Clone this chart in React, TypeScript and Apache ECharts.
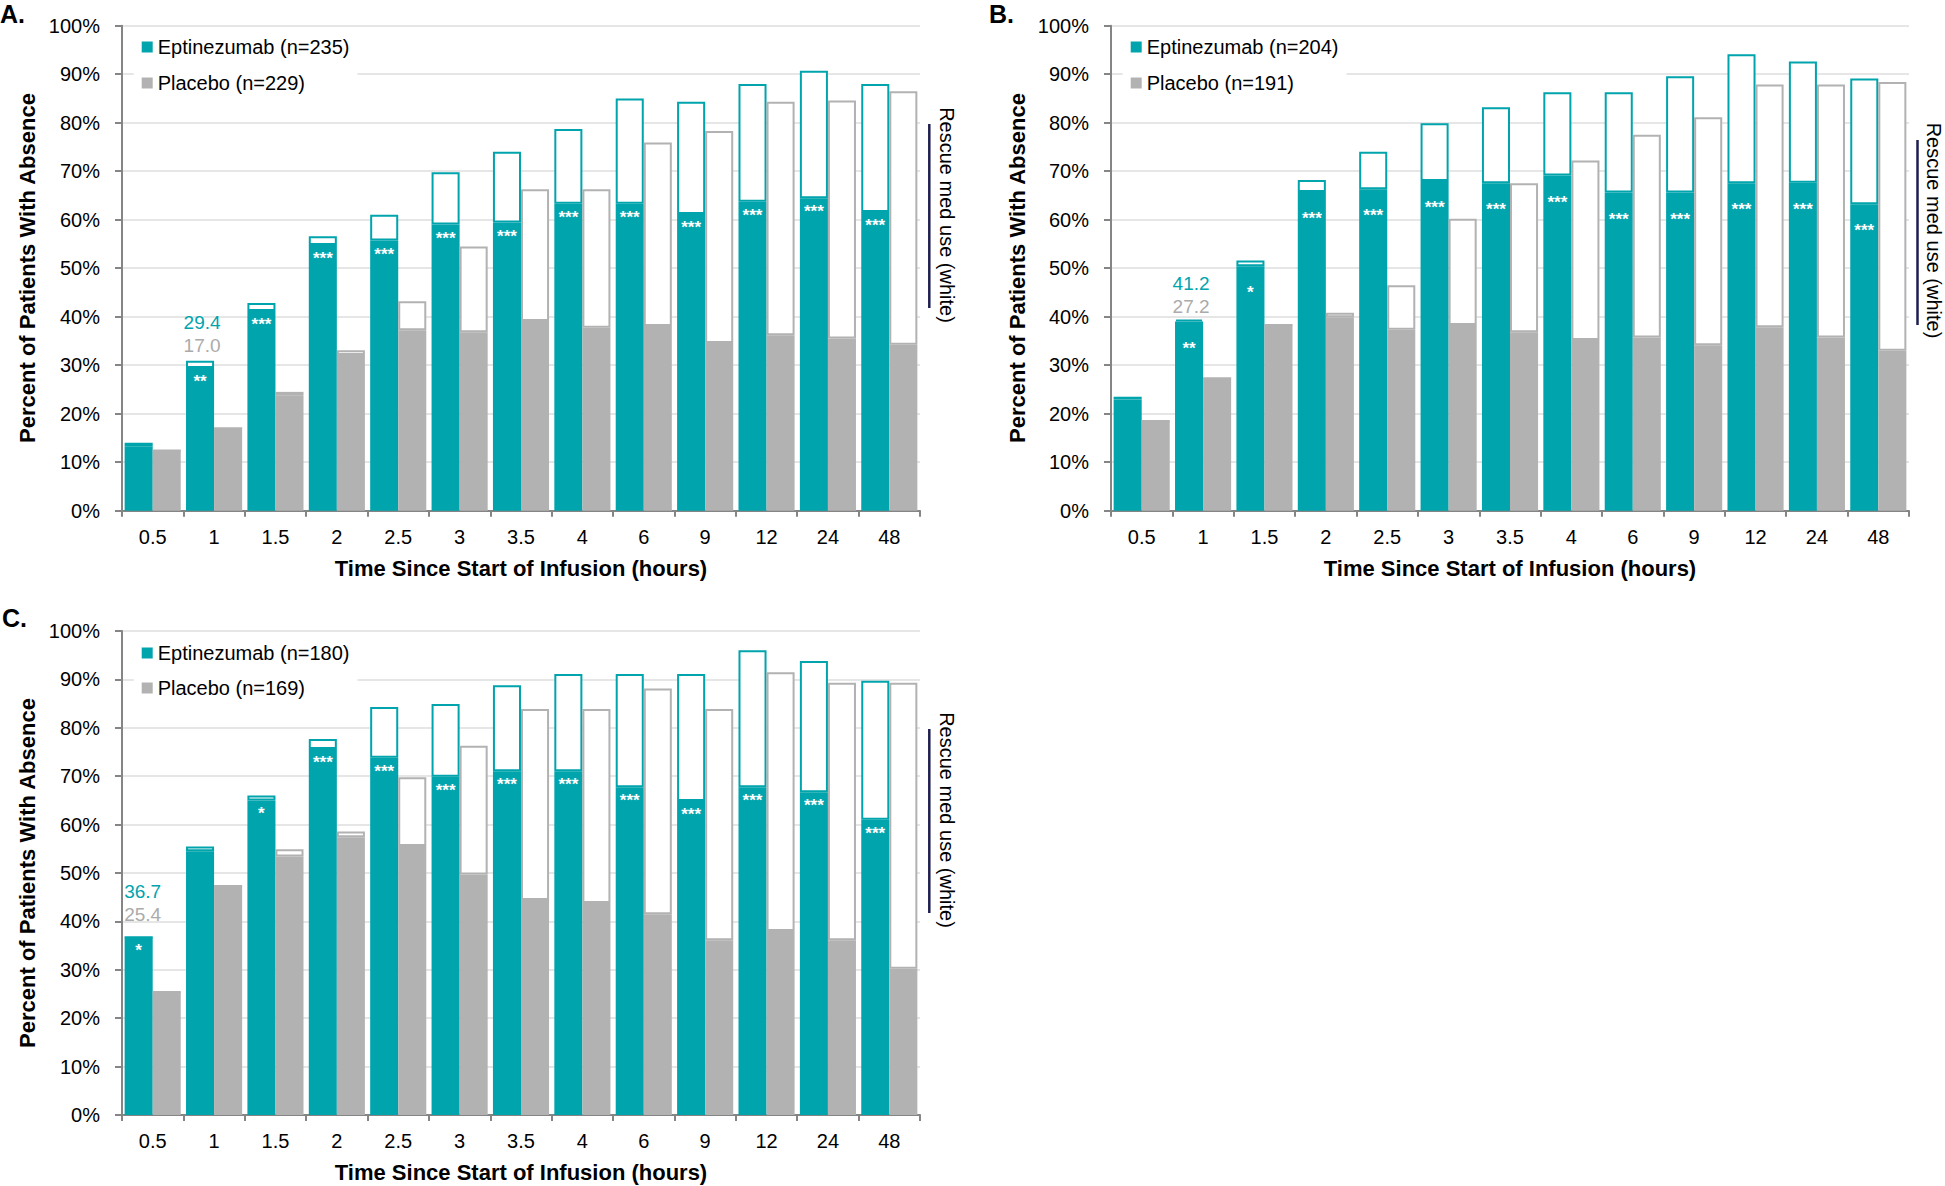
import React, { useEffect, useRef } from "react";
import * as echarts from "echarts";

// ---------- DATA ----------
const CATEGORIES = ["0.5", "1", "1.5", "2", "2.5", "3", "3.5", "4", "6", "9", "12", "24", "48"];
const Y_TICKS = [0, 10, 20, 30, 40, 50, 60, 70, 80, 90, 100];

// Panel A
const A_EPT_NAME = "Eptinezumab (n=235)";
const A_PBO_NAME = "Placebo (n=229)";
const A_EPT_SOLID = [13.3, 29.4, 41.2, 54.8, 55.7, 59.0, 59.4, 63.3, 63.3, 61.2, 63.7, 64.4, 61.6];
const A_EPT_TOTAL = [14.0, 30.9, 42.8, 56.6, 61.0, 69.8, 74.0, 78.7, 85.0, 84.3, 88.0, 90.7, 88.0];
const A_PBO_SOLID = [12.4, 17.0, 23.8, 32.1, 37.2, 36.8, 39.1, 37.7, 38.1, 34.6, 36.2, 35.5, 34.2];
const A_PBO_TOTAL = [12.4, 17.0, 24.5, 33.1, 43.2, 54.5, 66.3, 66.3, 75.9, 78.3, 84.3, 84.6, 86.5];
const A_STARS = ["", "**", "***", "***", "***", "***", "***", "***", "***", "***", "***", "***", "***"];
const A_NOTE = { index: 1, ept: "29.4", pbo: "17.0" };

// Panel B
const B_EPT_NAME = "Eptinezumab (n=204)";
const B_PBO_NAME = "Placebo (n=191)";
const B_EPT_SOLID = [22.9, 39.0, 50.4, 65.7, 66.3, 68.0, 67.5, 69.1, 65.6, 65.6, 67.5, 67.6, 63.2];
const B_EPT_TOTAL = [23.5, 39.4, 51.6, 68.2, 74.0, 79.9, 83.2, 86.3, 86.3, 89.6, 94.1, 92.6, 89.1];
const B_PBO_SOLID = [18.5, 27.3, 38.3, 39.9, 37.3, 38.3, 36.8, 35.2, 35.7, 34.1, 37.8, 35.7, 33.0];
const B_PBO_TOTAL = [18.5, 27.3, 38.3, 40.8, 46.5, 60.2, 67.5, 72.2, 77.5, 81.1, 87.9, 87.9, 88.4];
const B_STARS = ["", "**", "*", "***", "***", "***", "***", "***", "***", "***", "***", "***", "***"];
const B_NOTE = { index: 1, ept: "41.2", pbo: "27.2" };

// Panel C
const C_EPT_NAME = "Eptinezumab (n=180)";
const C_PBO_NAME = "Placebo (n=169)";
const C_EPT_SOLID = [36.7, 54.5, 65.0, 75.6, 73.8, 69.9, 71.0, 71.0, 67.7, 64.9, 67.7, 66.7, 61.0];
const C_EPT_TOTAL = [36.7, 55.5, 66.0, 77.7, 84.3, 84.9, 88.8, 91.1, 91.1, 91.1, 96.0, 93.8, 89.7];
const C_PBO_SOLID = [25.4, 47.3, 53.4, 57.4, 55.6, 49.7, 44.4, 43.8, 41.5, 36.1, 38.0, 36.1, 30.2];
const C_PBO_TOTAL = [25.4, 47.3, 54.9, 58.6, 69.8, 76.3, 83.9, 83.9, 88.1, 83.9, 91.5, 89.3, 89.3];
const C_STARS = ["*", "", "*", "***", "***", "***", "***", "***", "***", "***", "***", "***", "***"];
const C_NOTE = { index: 0, ept: "36.7", pbo: "25.4" };

// Texts
const Y_TITLE = "Percent of Patients With Absence";
const X_TITLE = "Time Since Start of Infusion (hours)";
const RESCUE_TEXT = "Rescue med use (white)";
const PANEL_LABELS = ["A.", "B.", "C."];

// ---------- STYLE ----------
const FONT = "'Liberation Sans', Arial, Helvetica, sans-serif";
const TEAL = "#00A4AD";
const GRAY = "#B2B2B2";
const NOTE_GRAY = "#ABABAB";
const AXIS_GRAY = "#858585";
const GRID_GRAY = "#E6E6E6";
const NAVY = "#1E1E50";

type Panel = {
  grid: { left: number; top: number; width: number; height: number };
  eptName: string;
  pboName: string;
  eptSolid: number[];
  eptTotal: number[];
  pboSolid: number[];
  pboTotal: number[];
  stars: string[];
  starDist: number;
  note: { index: number; ept: string; pbo: string };
  noteDist: number;
  noteOffset: number;
  legend: { left: number; top: number; gap: number };
  label: { x: number; y: number; text: string };
  yTitle: { x: number; y: number };
  xTitle: { x: number; y: number };
  rescue: { x: number; y: number; lx: number; ly1: number; ly2: number };
};

const PANELS: Panel[] = [
  {
    grid: { left: 122, top: 25.7, width: 798, height: 485 },
    eptName: A_EPT_NAME, pboName: A_PBO_NAME,
    eptSolid: A_EPT_SOLID, eptTotal: A_EPT_TOTAL, pboSolid: A_PBO_SOLID, pboTotal: A_PBO_TOTAL,
    stars: A_STARS, starDist: 5, note: A_NOTE, noteDist: 4, noteOffset: 2,
    legend: { left: 133.7, top: 33, gap: 16 },
    label: { x: 0, y: 14, text: PANEL_LABELS[0] },
    yTitle: { x: 27, y: 268 },
    xTitle: { x: 521, y: 568 },
    rescue: { x: 946.7, y: 215, lx: 929.3, ly1: 124, ly2: 308 },
  },
  {
    grid: { left: 1111, top: 25.7, width: 798, height: 485 },
    eptName: B_EPT_NAME, pboName: B_PBO_NAME,
    eptSolid: B_EPT_SOLID, eptTotal: B_EPT_TOTAL, pboSolid: B_PBO_SOLID, pboTotal: B_PBO_TOTAL,
    stars: B_STARS, starDist: 18, note: B_NOTE, noteDist: 2, noteOffset: 2,
    legend: { left: 1122.7, top: 33, gap: 16 },
    label: { x: 989, y: 14, text: PANEL_LABELS[1] },
    yTitle: { x: 1017, y: 268 },
    xTitle: { x: 1510, y: 568 },
    rescue: { x: 1933.5, y: 230.5, lx: 1917.5, ly1: 140, ly2: 325 },
  },
  {
    grid: { left: 122, top: 631, width: 798, height: 484 },
    eptName: C_EPT_NAME, pboName: C_PBO_NAME,
    eptSolid: C_EPT_SOLID, eptTotal: C_EPT_TOTAL, pboSolid: C_PBO_SOLID, pboTotal: C_PBO_TOTAL,
    stars: C_STARS, starDist: 5, note: C_NOTE, noteDist: 10, noteOffset: 4,
    legend: { left: 133.7, top: 639, gap: 15 },
    label: { x: 2, y: 618, text: PANEL_LABELS[2] },
    yTitle: { x: 27, y: 873 },
    xTitle: { x: 521, y: 1172.5 },
    rescue: { x: 946.7, y: 820, lx: 929.3, ly1: 729, ly2: 913 },
  },
];

function buildOption() {
  const grids: any[] = [];
  const xAxes: any[] = [];
  const yAxes: any[] = [];
  const legends: any[] = [];
  const series: any[] = [];
  const graphics: any[] = [];

  PANELS.forEach((p, gi) => {
    grids.push({ ...p.grid, containLabel: false });
    xAxes.push({
      type: "category",
      gridIndex: gi,
      data: CATEGORIES,
      axisLine: { show: true, lineStyle: { color: AXIS_GRAY, width: 2 } },
      axisTick: { show: true, length: 6, lineStyle: { color: AXIS_GRAY, width: 2 } },
      axisLabel: { color: "#000", fontSize: 20, fontFamily: FONT, margin: 16 },
      splitLine: { show: false },
    });
    yAxes.push({
      type: "value",
      gridIndex: gi,
      min: Y_TICKS[0],
      max: Y_TICKS[Y_TICKS.length - 1],
      interval: 10,
      axisLine: { show: true, lineStyle: { color: AXIS_GRAY, width: 2 } },
      axisTick: { show: true, length: 7, lineStyle: { color: AXIS_GRAY, width: 2 } },
      axisLabel: { color: "#000", fontSize: 20, fontFamily: FONT, margin: 22, formatter: "{value}%" },
      splitLine: { show: true, lineStyle: { color: GRID_GRAY, width: 2 } },
    });
    legends.push({
      orient: "vertical",
      left: p.legend.left,
      top: p.legend.top,
      padding: [4, 8, 4, 8],
      itemGap: p.legend.gap,
      itemWidth: 11,
      itemHeight: 11,
      icon: "rect",
      backgroundColor: "#fff",
      data: [p.eptName, p.pboName],
      itemStyle: { borderWidth: 0 },
      textStyle: { color: "#000", fontSize: 20, fontFamily: FONT },
      selectedMode: false,
    });

    const stars = p.stars;
    const common = {
      type: "bar",
      xAxisIndex: gi,
      yAxisIndex: gi,
      barGap: "0%",
      barCategoryGap: "8.6%",
      silent: true,
    };
    const eptRescue = p.eptTotal.map((t, i) => {
      const v = Math.round((t - p.eptSolid[i]) * 10) / 10;
      if (i === p.note.index) {
        return {
          value: v,
          label: {
            show: true,
            position: "top",
            distance: p.noteDist,
            offset: [p.noteOffset, 0],
            formatter: `{e|${p.note.ept}}\n{p|${p.note.pbo}}`,
            rich: {
              e: { color: TEAL, fontSize: 19, lineHeight: 23, fontFamily: FONT, align: "center" },
              p: { color: NOTE_GRAY, fontSize: 19, lineHeight: 23, fontFamily: FONT, align: "center" },
            },
          },
        };
      }
      return v;
    });
    const pboRescue = p.pboTotal.map((t, i) => Math.round((t - p.pboSolid[i]) * 10) / 10);

    series.push({
      ...common,
      name: p.eptName,
      stack: "ept" + gi,
      data: p.eptSolid,
      itemStyle: { color: TEAL },
      label: {
        show: true,
        position: "insideTop",
        distance: p.starDist,
        formatter: (prm: any) => stars[prm.dataIndex] || "",
        color: "#fff",
        fontSize: 17,
        fontWeight: "bold",
        fontFamily: FONT,
      },
      z: 2,
    });
    series.push({
      ...common,
      name: p.eptName + " rescue",
      stack: "ept" + gi,
      data: eptRescue,
      itemStyle: { color: "#fff", borderColor: TEAL, borderWidth: 2 },
      label: { show: false },
      z: 3,
    });
    series.push({
      ...common,
      name: p.pboName,
      stack: "pbo" + gi,
      data: p.pboSolid,
      itemStyle: { color: GRAY },
      z: 2,
    });
    series.push({
      ...common,
      name: p.pboName + " rescue",
      stack: "pbo" + gi,
      data: pboRescue,
      itemStyle: { color: "#fff", borderColor: GRAY, borderWidth: 2 },
      z: 3,
    });

    const txt = (x: number, y: number, text: string, opts: any) => ({
      type: "text",
      x,
      y,
      rotation: opts.rotation || 0,
      z: 10,
      style: {
        text,
        fill: opts.color || "#000",
        font: opts.font,
        align: opts.align || "center",
        verticalAlign: "middle",
        textAlign: opts.align || "center",
        textVerticalAlign: "middle",
      },
    });

    graphics.push(txt(p.label.x, p.label.y, p.label.text, { font: `bold 25px ${FONT}`, align: "left" }));
    graphics.push(txt(p.yTitle.x, p.yTitle.y, Y_TITLE, { font: `bold 22px ${FONT}`, rotation: Math.PI / 2 }));
    graphics.push(txt(p.xTitle.x, p.xTitle.y, X_TITLE, { font: `bold 22px ${FONT}` }));
    graphics.push(txt(p.rescue.x, p.rescue.y, RESCUE_TEXT, { font: `20px ${FONT}`, rotation: -Math.PI / 2 }));
    graphics.push({
      type: "line",
      z: 10,
      shape: { x1: p.rescue.lx, y1: p.rescue.ly1, x2: p.rescue.lx, y2: p.rescue.ly2 },
      style: { stroke: NAVY, lineWidth: 2.5 },
    });
  });

  return {
    animation: false,
    backgroundColor: "#fff",
    grid: grids,
    xAxis: xAxes,
    yAxis: yAxes,
    legend: legends,
    series,
    graphic: graphics,
  };
}

export default function App() {
  const ref = useRef<HTMLDivElement>(null);
  useEffect(() => {
    document.body.style.margin = "0";
    document.body.style.overflow = "hidden";
    if (!ref.current) return;
    const chart = echarts.init(ref.current, undefined, { renderer: "svg" });
    chart.setOption(buildOption() as any);
    return () => chart.dispose();
  }, []);
  return <div ref={ref} style={{ width: 1945, height: 1186, background: "#fff" }} />;
}
